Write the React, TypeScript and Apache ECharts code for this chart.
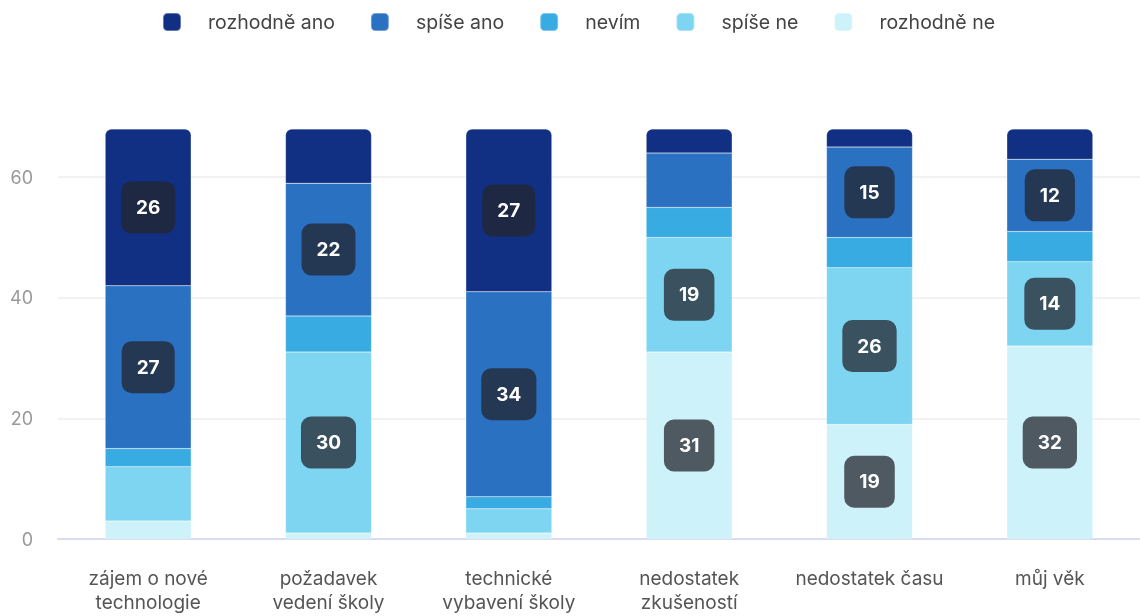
import React, { useEffect, useRef } from "react";
import * as echarts from "echarts";

const categories = [
  "zájem o nové\ntechnologie",
  "požadavek\nvedení školy",
  "technické\nvybavení školy",
  "nedostatek\nzkušeností",
  "nedostatek času",
  "můj věk",
];
const seriesNames = ["rozhodně ano", "spíše ano", "nevím", "spíše ne", "rozhodně ne"];
const rozhodneAno = [26, 9, 27, 4, 3, 5];
const spiseAno = [27, 22, 34, 9, 15, 12];
const nevim = [3, 6, 2, 5, 5, 5];
const spiseNe = [9, 30, 4, 19, 26, 14];
const rozhodneNe = [3, 1, 1, 31, 19, 32];
const yTicks = [0, 20, 40, 60];

const colors: Record<string, string> = {
  "rozhodně ano": "#123083",
  "spíše ano": "#2a71c2",
  "nevím": "#39abe3",
  "spíše ne": "#7ed5f1",
  "rozhodně ne": "#cef2fa",
};

export default function App() {
  const ref = useRef<HTMLDivElement>(null);
  useEffect(() => {
    const chart = echarts.init(ref.current!, null, { renderer: "svg" });
    const stackOrder: [string, number[]][] = [
      ["rozhodně ne", rozhodneNe],
      ["spíše ne", spiseNe],
      ["nevím", nevim],
      ["spíše ano", spiseAno],
      ["rozhodně ano", rozhodneAno],
    ];
    const font = "Inter";
    chart.setOption({
      animation: false,
      textStyle: { fontFamily: font },
      legend: {
        data: seriesNames.map((n) => ({ name: n, icon: "roundRect" })),
        top: 7,
        left: 157,
        itemWidth: 18,
        itemHeight: 18,
        itemGap: 35,
        textStyle: { fontSize: 19.5, color: "#444", fontFamily: font, padding: [0, 0, 0, 22] },
      },
      grid: { left: 58, right: 0, top: 129, bottom: 77, containLabel: false },
      xAxis: {
        type: "category",
        data: categories,
        axisTick: { show: false },
        axisLine: { lineStyle: { color: "#d8dcee", width: 2 } },
        axisLabel: {
          fontSize: 19,
          lineHeight: 24,
          color: "#555",
          margin: 27,
          interval: 0,
          fontFamily: font,
        },
      },
      yAxis: {
        type: "value",
        min: yTicks[0],
        max: 68,
        interval: yTicks[1] - yTicks[0],
        axisLine: { show: false },
        axisTick: { show: false },
        axisLabel: { fontSize: 18, color: "#999", margin: 25, showMaxLabel: false, fontFamily: font },
        splitLine: {
          lineStyle: { color: ["#eeeeee", "#eeeeee", "#eeeeee", "#eeeeee", "rgba(0,0,0,0)"], width: 1.5 },
        },
      },
      series: stackOrder.map(([name, vals]) => ({
        name,
        type: "bar",
        stack: "total",
        barWidth: 86,
        itemStyle: {
          color: colors[name],
          borderColor: "rgba(255,255,255,0.35)",
          borderWidth: 0.5,
          borderRadius: name === "rozhodně ano" ? [6, 6, 0, 0] : 0,
        },
        label: {
          position: "inside",
          color: "#fff",
          fontSize: 19,
          fontWeight: "bold",
          fontFamily: font,
          backgroundColor: "rgba(36,38,46,0.75)",
          borderRadius: 10,
          padding: [17, 15],
          lineHeight: 18,
        },
        data: vals.map((v) => ({ value: v, label: { show: v >= 10 } })),
      })),
    });
    return () => chart.dispose();
  }, []);
  return (
    <div
      ref={ref}
      style={{ position: "fixed", left: 0, top: 0, width: 1140, height: 616 }}
    />
  );
}
